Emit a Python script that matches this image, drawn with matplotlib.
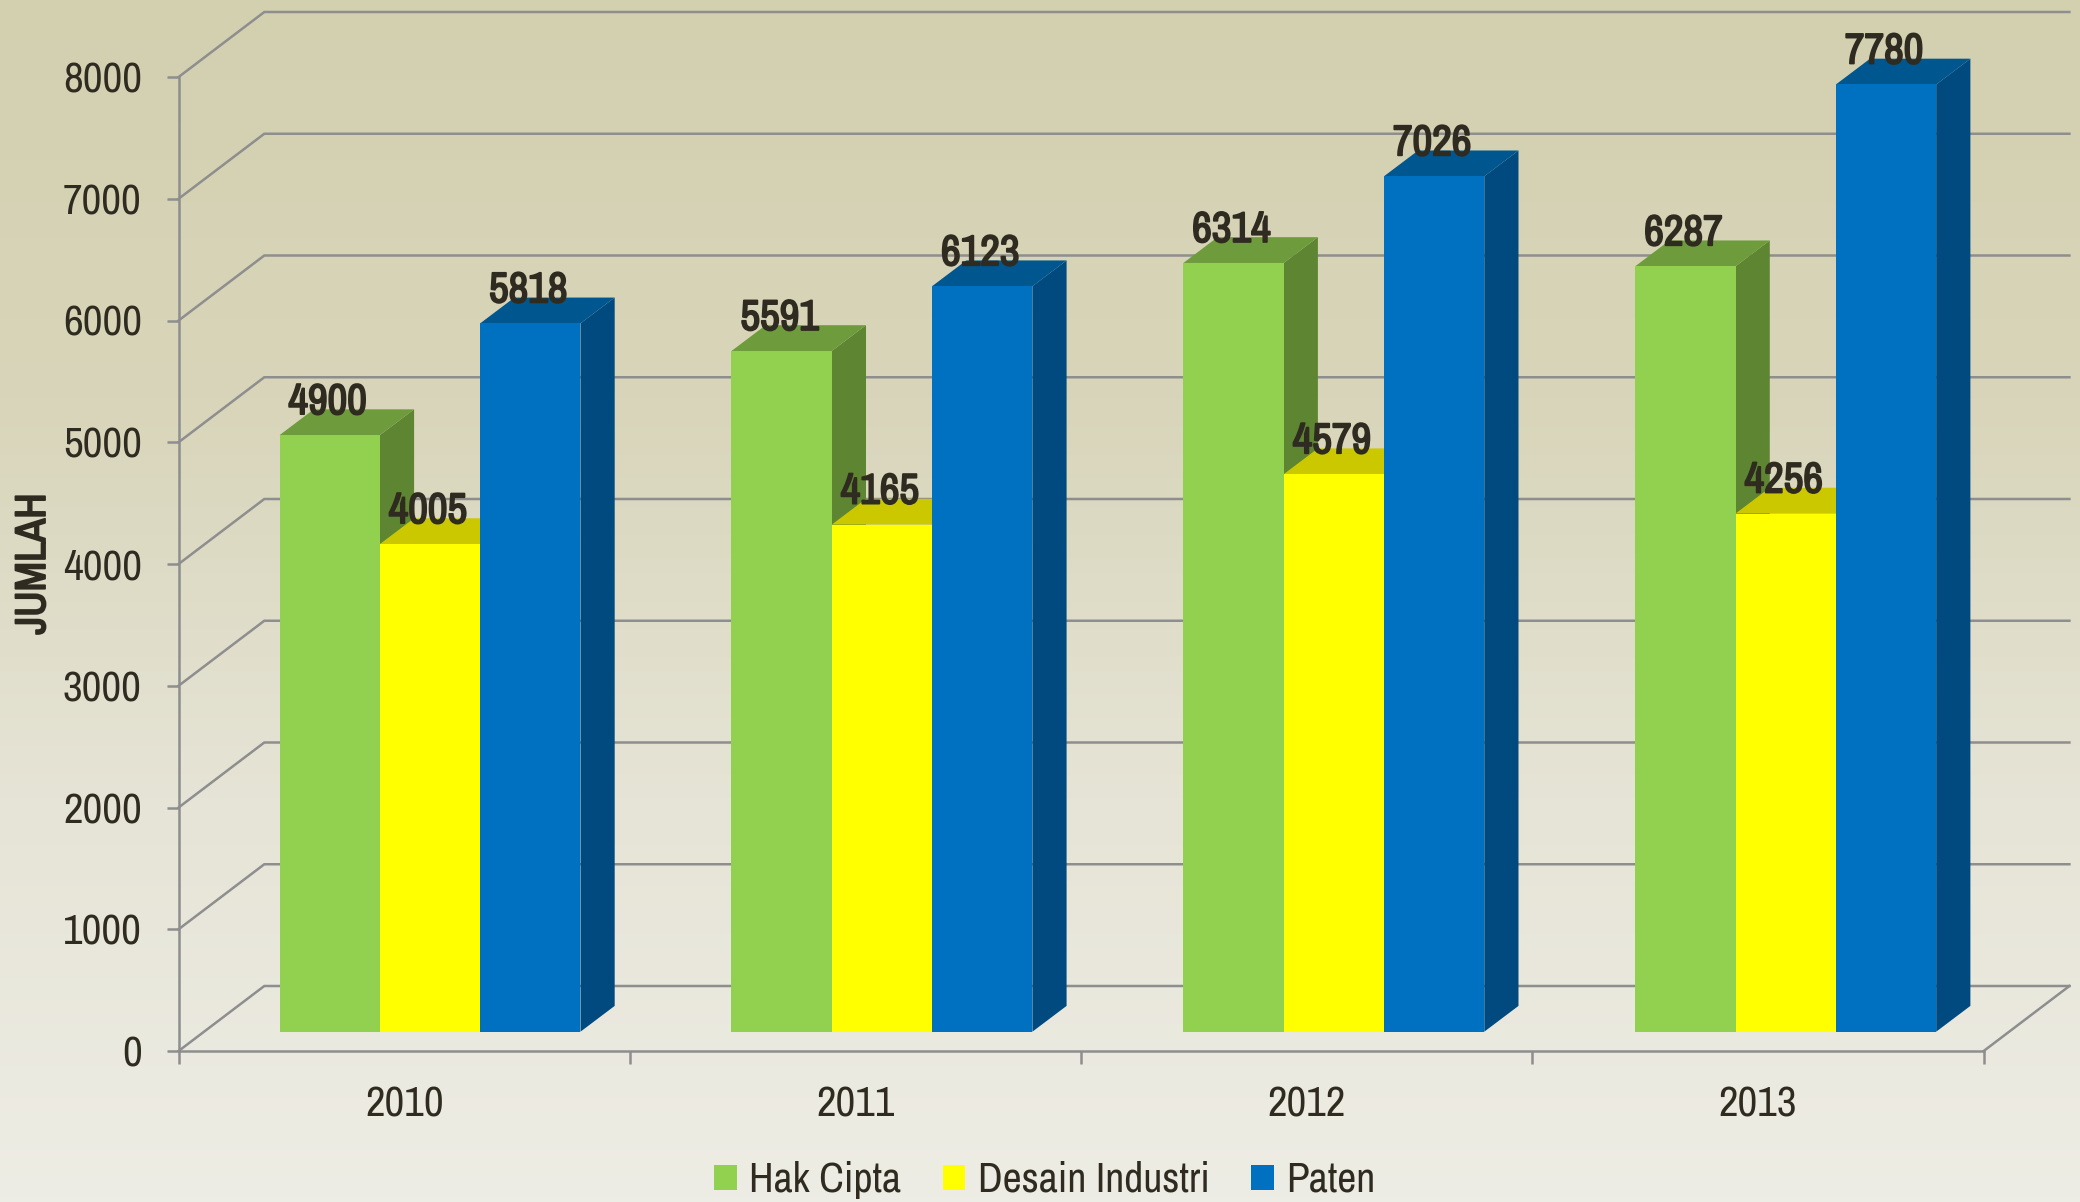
import numpy as np
import matplotlib
matplotlib.use("Agg")
import matplotlib.pyplot as plt
import matplotlib.patheffects as pe
from matplotlib.colors import LinearSegmentedColormap
from matplotlib.patches import Polygon, Rectangle

# values
years = ["2010", "2011", "2012", "2013"]
hak_cipta = [4900, 5591, 6314, 6287]
desain_industri = [4005, 4165, 4579, 4256]
paten = [5818, 6123, 7026, 7780]
y_ticks = [0, 1000, 2000, 3000, 4000, 5000, 6000, 7000, 8000]

series_names = ["Hak Cipta", "Desain Industri", "Paten"]
front_colors = ["#92D050", "#FFFF00", "#0070C0"]
top_colors = ["#6E9C3C", "#CCC800", "#00568F"]
side_colors = ["#5E8532", "#A8A400", "#004A80"]

W, H = 2080, 1202
plt.rcParams["font.family"] = ["Archivo Narrow", "Roboto Condensed", "Liberation Sans", "DejaVu Sans"]
text_color = "#2F2B20"
grid_color = "#8E8E8E"
# the narrow font only has one weight here, so thicken it with a stroke
bold = [pe.withStroke(linewidth=1.3, foreground=text_color)]

fig = plt.figure(figsize=(W / 100, H / 100), dpi=100)

# background gradient
bg = fig.add_axes([0, 0, 1, 1], zorder=0)
bg.axis("off")
cmap = LinearSegmentedColormap.from_list("bg", ["#D3D0B0", "#D8D5BA", "#E6E4D6", "#EEEDE5"])
bg.imshow(np.linspace(0, 1, 256).reshape(-1, 1), cmap=cmap, aspect="auto", extent=[0, 1, 0, 1], origin="upper")

# main axes, frame = front plane of the 3d box
x0, x1, y0, y1 = 178.6, 1983.7, 1051, 77
ax = fig.add_axes([x0 / W, 1 - y0 / H, (x1 - x0) / W, (y0 - y1) / H], zorder=1)
ax.patch.set_alpha(0)
ax.set_xlim(0, len(years))
ax.set_ylim(0, 8000)

x_scale = (x1 - x0) / len(years)
y_scale = (y0 - y1) / 8000
depth_x = 85.7 / x_scale
depth_y = 65 / y_scale
bar_w = 100.3 / x_scale
side_x = 34.2 / x_scale
side_y = 25.8 / y_scale
floor_x = 25.8 / x_scale
floor_y = 19.3 / y_scale
group_step = 451.9 / x_scale

# walls and gridlines
for t in y_ticks:
    ax.plot([0, depth_x, len(years) + depth_x], [t, t + depth_y, t + depth_y],
            color=grid_color, lw=1.8, clip_on=False, zorder=1, solid_joinstyle="miter")
ax.plot([len(years), len(years) + depth_x], [0, depth_y], color=grid_color, lw=1.8, clip_on=False, zorder=1)

# bars, back to front inside each group
series_values = [hak_cipta, desain_industri, paten]
z = 2
for i in range(len(years)):
    left = i * group_step + 0.5 + floor_x - 1.5 * bar_w
    for s, values in enumerate(series_values):
        v = values[i]
        xl = left + s * bar_w
        xr = xl + bar_w
        side = Polygon([(xr, floor_y), (xr + side_x, floor_y + side_y),
                        (xr + side_x, floor_y + v + side_y), (xr, floor_y + v)],
                       closed=True, fc=side_colors[s], ec="none", clip_on=False, zorder=z)
        top = Polygon([(xl, floor_y + v), (xl + side_x, floor_y + v + side_y),
                       (xr + side_x, floor_y + v + side_y), (xr, floor_y + v)],
                      closed=True, fc=top_colors[s], ec="none", clip_on=False, zorder=z)
        ax.add_patch(side)
        ax.add_patch(top)
        ax.bar(xl + bar_w / 2, v, bar_w, bottom=floor_y, color=front_colors[s], zorder=z + 0.5, clip_on=False)
        z += 1

# value labels sit over every bar
for i in range(len(years)):
    left = i * group_step + 0.5 + floor_x - 1.5 * bar_w
    for s, values in enumerate(series_values):
        ax.text(left + (s + 0.5) * bar_w - 2 / x_scale, floor_y + values[i] + 33 / y_scale, str(values[i]),
                ha="center", va="center", fontsize=31, fontweight="bold", color=text_color, zorder=100,
                clip_on=False, path_effects=bold)

# axes
for name in ["top", "right"]:
    ax.spines[name].set_visible(False)
for name in ["left", "bottom"]:
    ax.spines[name].set_color(grid_color)
    ax.spines[name].set_linewidth(1.8)
ax.spines["left"].set_zorder(1.5)
ax.set_yticks(y_ticks)
ax.set_xticks(range(len(years) + 1))
ax.set_xticks(np.arange(len(years)) + 0.5, labels=years, minor=True)
ax.tick_params(axis="x", which="major", length=9, width=1.8, color=grid_color, labelbottom=False)
ax.tick_params(axis="x", which="minor", length=0, pad=25, labelsize=31, labelcolor=text_color)
ax.tick_params(axis="y", length=9, width=1.8, color=grid_color, pad=17.5, labelsize=31, labelcolor=text_color)

fig.text(33 / W, 1 - 564 / H, "JUMLAH", rotation=90, ha="center", va="center",
         fontsize=31, fontweight="bold", color=text_color, path_effects=bold)

# legend
handles = [Rectangle((0, 0), 1, 1, fc=c, ec="none") for c in front_colors]
fig.legend(handles, series_names, loc="center", bbox_to_anchor=(1045 / W, 1 - 1180 / H), ncol=3, frameon=False,
           fontsize=30, labelcolor=text_color, handlelength=0.54, handleheight=0.54, handletextpad=0.3,
           columnspacing=1.0, borderpad=0)

fig.savefig("out.png", dpi=100)
